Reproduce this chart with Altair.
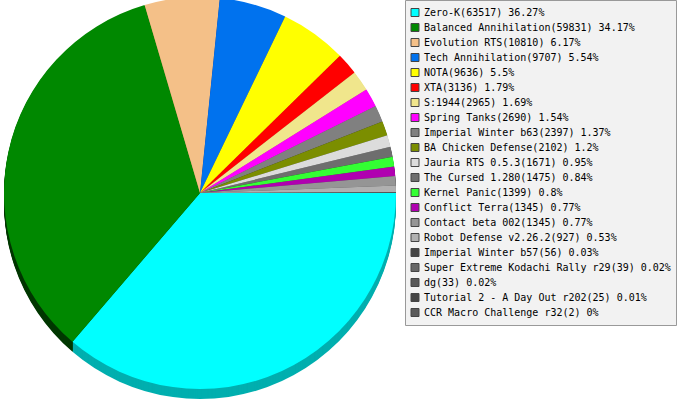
import math
import altair as alt
import pandas as pd

# Game usage counts and their shares
games = [
    "Zero-K", "Balanced Annihilation", "Evolution RTS", "Tech Annihilation",
    "NOTA", "XTA", "S:1944", "Spring Tanks", "Imperial Winter b63",
    "BA Chicken Defense", "Jauria RTS 0.5.3", "The Cursed 1.280",
    "Kernel Panic", "Conflict Terra", "Contact beta 002",
    "Robot Defense v2.26.2", "Imperial Winter b57",
    "Super Extreme Kodachi Rally r29", "dg", "Tutorial 2 - A Day Out r202",
    "CCR Macro Challenge r32",
]
counts = [63517, 59831, 10810, 9707, 9636, 3136, 2965, 2690, 2397, 2102,
          1671, 1475, 1399, 1345, 1345, 927, 56, 39, 33, 25, 2]
percents = ["36.27", "34.17", "6.17", "5.54", "5.5", "1.79", "1.69", "1.54",
            "1.37", "1.2", "0.95", "0.84", "0.8", "0.77", "0.77", "0.53",
            "0.03", "0.02", "0.02", "0.01", "0"]

palette = [
    "#00FFFF", "#008800", "#F4C088", "#0072EE", "#FFFF00", "#FF0000",
    "#F0E68C", "#FF00FF", "#808080", "#7B8E00", "#DCDCDC", "#6E6E6E",
    "#33FF33", "#B000B0", "#959595", "#B0B0B0", "#444444", "#666666",
    "#585858", "#454545", "#5A5A5A",
]


def darken(hex_color, amount=80):
    r, g, b = (int(hex_color[i:i + 2], 16) for i in (1, 3, 5))
    return "#{:02X}{:02X}{:02X}".format(*(max(0, c - amount) for c in (r, g, b)))


labels = [f"{g}({c}) {p}%" for g, c, p in zip(games, counts, percents)]
df = pd.DataFrame({
    "idx": range(len(games)),
    "label": labels,
    "count": counts,
    "shade": [darken(c) for c in palette],
})

CX, CY, R, DEPTH = 200, 193, 196, 10
start = math.pi / 2  # first slice begins at three o'clock

theta = alt.Theta("count:Q", stack=True,
                  scale=alt.Scale(range=[start, start + 2 * math.pi]))
order = alt.Order("idx:Q", sort="ascending")

base = alt.Chart(df)

# extruded side of the pie, stacked one pixel at a time
side_layers = [
    base.mark_arc(radius=R).encode(
        theta=theta,
        order=order,
        fill=alt.Fill("shade:N", scale=None),
        x=alt.value(CX),
        y=alt.value(CY + k),
    )
    for k in range(DEPTH, 0, -1)
]

top = base.mark_arc(radius=R).encode(
    theta=theta,
    order=order,
    x=alt.value(CX),
    y=alt.value(CY),
    color=alt.Color(
        "label:N",
        scale=alt.Scale(domain=labels, range=palette),
        legend=alt.Legend(
            orient="none", legendX=405, legendY=0, title=None,
            fillColor="#F2F2F2", strokeColor="#999999", padding=5,
            labelFont="DejaVu Sans Mono", labelFontSize=10,
            labelColor="#000000", labelLimit=400, labelOffset=4,
            symbolType="square", symbolSize=64,
            symbolStrokeColor="#444444", symbolStrokeWidth=1,
            clipHeight=15, rowPadding=0, cornerRadius=0,
        ),
    ),
)

chart = alt.layer(*side_layers, top).properties(
    width=683, height=400, padding=0,
    autosize=alt.AutoSizeParams(type="none"),
    background="#FFFFFF",
).configure_view(stroke=None)

chart.save("out.html", embed_options={"renderer": "svg", "actions": False})
